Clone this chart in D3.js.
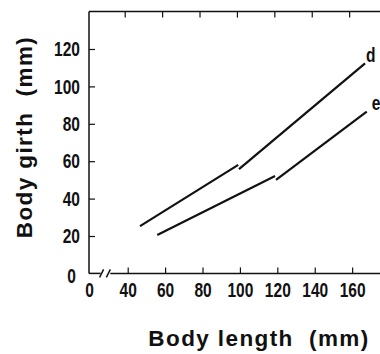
<!DOCTYPE html>
<html><head><meta charset="utf-8">
<script src="https://cdn.jsdelivr.net/npm/d3@7"></script>
<style>body{margin:0;background:#fff} svg{display:block} text{white-space:pre}</style>
</head><body><svg id="c" width="380" height="354"></svg>
<script>
const xTicks=[0,40,60,80,100,120,140,160];
const xTopTicks=[40,60,80,100,120,140,160];
const yTicks=[0,20,40,60,80,100,120];
const seriesNames=["d","e"];
const dSeg1=[[46.6,25.3],[99.1,58]];
const dSeg2=[[99.5,55.8],[166.9,112.3]];
const eSeg1=[[55.8,20.5],[118.8,52.1]];
const eSeg2=[[119.3,50],[167.8,86.5]];
const xTitle="Body length  (mm)", yTitle="Body girth  (mm)";

const svg=d3.select("#c");
const x=d3.scaleLinear().domain([0,40,175]).range([89,127.7,380.2]);
const y=d3.scaleLinear().domain([0,140]).range([273.4,11.6]);
const tickFont="'Liberation Sans',Arial,sans-serif";
const SX=0.74;
function condense(sel){
  sel.each(function(){
    const t=d3.select(this);
    const x0=+(t.attr("x")||0);
    t.attr("x",x0/SX).attr("transform",`scale(${SX},1)`);
  });
}

// left axis
const ga=svg.append("g").attr("transform",`translate(${x(0)},0)`)
  .call(d3.axisLeft(y).tickValues(yTicks).tickSizeInner(-6).tickSizeOuter(0).tickPadding(9));
ga.select(".domain").remove();
// bottom axis
const gb=svg.append("g").attr("transform",`translate(0,${y(0)})`)
  .call(d3.axisBottom(x).tickValues(xTicks).tickSizeInner(-6).tickSizeOuter(0).tickPadding(9));
gb.select(".domain").remove();
// top axis
const gt=svg.append("g").attr("transform",`translate(-3,${y(140)})`)
  .call(d3.axisTop(x).tickValues(xTopTicks).tickSizeInner(-6).tickSizeOuter(0).tickFormat(""));
gt.select(".domain").remove();
[ga,gb,gt].forEach(g=>{
  g.selectAll(".tick line").attr("stroke","#111").attr("stroke-width",1.2);
  g.selectAll("text").attr("font-family",tickFont).attr("font-size",21).attr("font-weight","bold").attr("fill","#111");
});
ga.selectAll(".tick").filter(d=>d===0).select("line").remove();
gb.selectAll(".tick").filter(d=>d===0).select("line").remove();
ga.selectAll(".tick").filter(d=>d===0).select("text").attr("x",-13).attr("dy","0.42em");
condense(ga.selectAll("text"));
condense(gb.selectAll("text"));

// frame
const fr=svg.append("g").attr("stroke","#111").attr("stroke-width",1.5).attr("fill","none");
fr.append("line").attr("x1",x(0)).attr("x2",x(0)).attr("y1",y(140)).attr("y2",y(0));
fr.append("line").attr("x1",x(0)).attr("x2",380).attr("y1",y(140)).attr("y2",y(140));
fr.append("line").attr("x1",x(0)).attr("x2",x(12)).attr("y1",y(0)).attr("y2",y(0));
fr.append("line").attr("x1",x(22)).attr("x2",380).attr("y1",y(0)).attr("y2",y(0));
[13,20].forEach(v=>{
  fr.append("line").attr("x1",x(v)-2).attr("x2",x(v)+2).attr("y1",y(0)+4).attr("y2",y(0)-4);
});

// lines
const line=d3.line().x(d=>x(d[0])).y(d=>y(d[1]));
[dSeg1,dSeg2,eSeg1,eSeg2].forEach(s=>{
  svg.append("path").attr("d",line(s)).attr("fill","none").attr("stroke","#111").attr("stroke-width",2.2);
});
// series labels
const ends=[dSeg2[1],eSeg2[1]];
const labDx=[1,5];
seriesNames.forEach((n,i)=>{
  const t=svg.append("text").attr("x",x(ends[i][0])+labDx[i]).attr("y",y(ends[i][1])-1.5)
    .attr("font-family",tickFont).attr("font-size",21).attr("font-weight","bold").attr("fill","#111").text(n);
  condense(t);
});

// titles
svg.append("text").attr("x",259).attr("y",346).attr("text-anchor","middle")
  .attr("font-family","'Liberation Sans',Arial,sans-serif").attr("font-weight","bold")
  .attr("font-size",22.5).attr("letter-spacing",1.4).attr("fill","#111").text(xTitle);
svg.append("text").attr("transform","translate(32,137) rotate(-90)").attr("text-anchor","middle")
  .attr("font-family","'Liberation Sans',Arial,sans-serif").attr("font-weight","bold")
  .attr("font-size",22.5).attr("letter-spacing",1.4).attr("fill","#111").text(yTitle);
</script></body></html>
